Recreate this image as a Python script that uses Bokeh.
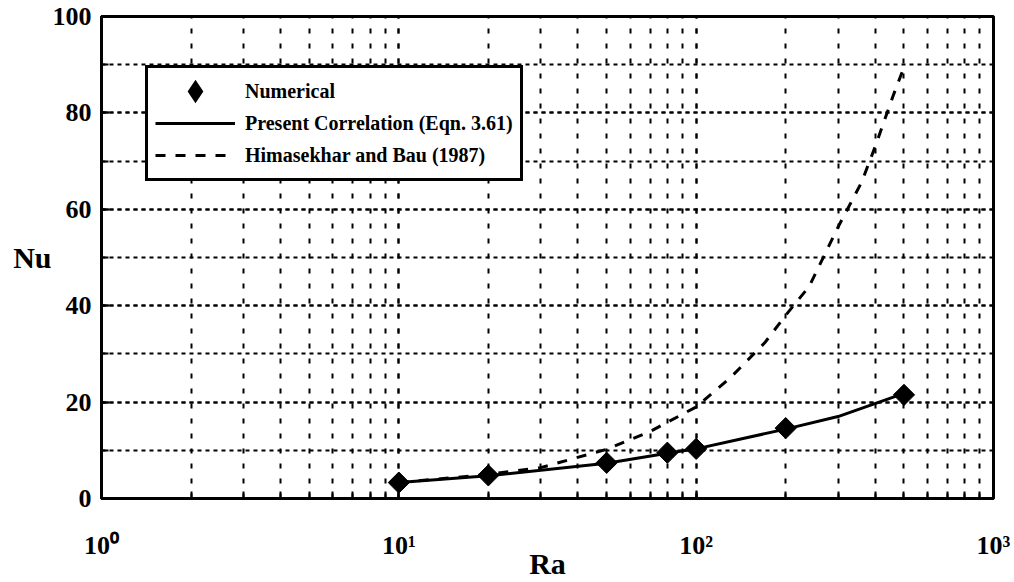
import numpy as np
from bokeh.plotting import figure
from bokeh.models import (Range1d, SingleIntervalTicker, Legend, LegendItem)
from bokeh.embed import file_html
from bokeh.resources import INLINE

# ---- data ----
ra_num = [10, 20, 50, 80, 100, 200, 500]
nu_num = [3.3, 4.8, 7.4, 9.5, 10.3, 14.6, 21.5]

ra_corr = [10, 20, 50, 80, 100, 200, 300, 500]
nu_corr = [3.3, 4.7, 7.3, 9.4, 10.3, 14.4, 17.0, 21.8]

ra_hb = [10, 20, 30, 50, 70, 100, 130, 170, 200, 240, 300, 360, 400, 460, 500]
nu_hb = [3.3, 5.0, 6.4, 10.2, 13.9, 19.0, 25.0, 32.3, 38.0, 44.0, 56.3, 65.6, 73.0, 83.6, 89.5]

x_tick_labels = {1: "10⁰", 10: "10¹", 100: "10²", 1000: "10³"}
legend_labels = ["Numerical", "Present Correlation (Eqn. 3.61)", "Himasekhar and Bau (1987)"]
x_title = "Ra"
y_title = "Nu"

FONT = "Liberation Serif"

p = figure(width=1014, height=582, x_axis_type="log", output_backend="svg",
           toolbar_location=None, title=None,
           x_range=Range1d(1, 1000), y_range=Range1d(0, 100),
           min_border_left=101, min_border_right=21, min_border_top=16,
           min_border_bottom=83)
p.background_fill_color = "white"
p.border_fill_color = "white"
p.outline_line_color = "black"
p.outline_line_width = 3
p.outline_line_alpha = 1

# y ticker: labels every 20, ticks/grid every 10
yt = SingleIntervalTicker(interval=20, num_minor_ticks=2)
p.yaxis.ticker = yt
p.ygrid.ticker = yt

for ax in (p.xaxis, p.yaxis):
    ax.axis_line_width = 3
    ax.axis_line_color = "black"
    ax.major_tick_in = 8
    ax.major_tick_out = 0
    ax.minor_tick_in = 7
    ax.minor_tick_out = 0
    ax.major_tick_line_width = 2
    ax.minor_tick_line_width = 2
    ax.major_label_text_font = FONT
    ax.major_label_text_font_style = "bold"
    ax.major_label_text_font_size = "26px"
    ax.major_label_text_color = "black"
    ax.axis_label_text_font = FONT
    ax.axis_label_text_font_style = "bold"
    ax.axis_label_text_font_size = "30px"
    ax.axis_label_text_color = "black"

p.xaxis.major_label_overrides = x_tick_labels
p.xaxis.major_label_standoff = 32
p.yaxis.major_label_standoff = 10

p.xaxis.axis_label = x_title
p.xaxis.axis_label_standoff = -16
p.yaxis.axis_label = y_title
p.yaxis.axis_label_standoff = -2
if hasattr(p.yaxis[0], "axis_label_orientation"):
    p.yaxis.axis_label_orientation = "horizontal"

p.xgrid.grid_line_color = "black"
p.xgrid.grid_line_width = 2
p.xgrid.grid_line_dash = "5 10"
p.xgrid.minor_grid_line_color = "black"
p.xgrid.minor_grid_line_width = 2
p.xgrid.minor_grid_line_dash = "5 10"

p.ygrid.grid_line_color = "black"
p.ygrid.grid_line_width = 2
p.ygrid.grid_line_dash = "4 4"
p.ygrid.minor_grid_line_color = "black"
p.ygrid.minor_grid_line_width = 2
p.ygrid.minor_grid_line_dash = "4 4"

# ---- series ----
r_hb = p.line(ra_hb, nu_hb, line_color="black", line_width=3, line_dash="10 10")
r_corr = p.line(ra_corr, nu_corr, line_color="black", line_width=3)
# diamond used as legend sample (hidden below the plotted markers)
r_leg = p.scatter(ra_num, nu_num, marker="diamond", size=9, fill_color="black",
                  line_color="black", line_width=6, line_join="miter")
p.scatter(ra_num, nu_num, marker="square", angle=np.pi / 4, size=15,
          fill_color="black", line_color="black")

legend = Legend(items=[LegendItem(label=legend_labels[0], renderers=[r_leg]),
                       LegendItem(label=legend_labels[1], renderers=[r_corr]),
                       LegendItem(label=legend_labels[2], renderers=[r_hb])],
                location=(44, 317))
legend.border_line_color = "black"
legend.border_line_alpha = 1
legend.border_line_width = 3
legend.background_fill_color = "white"
legend.background_fill_alpha = 1
legend.padding = 7
legend.margin = 0
legend.spacing = 0
legend.glyph_width = 80
legend.glyph_height = 32
legend.label_height = 32
legend.label_standoff = 10
legend.label_text_font = FONT
legend.label_text_font_style = "bold"
legend.label_text_font_size = "20px"
legend.label_text_color = "black"
p.add_layout(legend)

open("out.html", "w").write(file_html(p, INLINE))
